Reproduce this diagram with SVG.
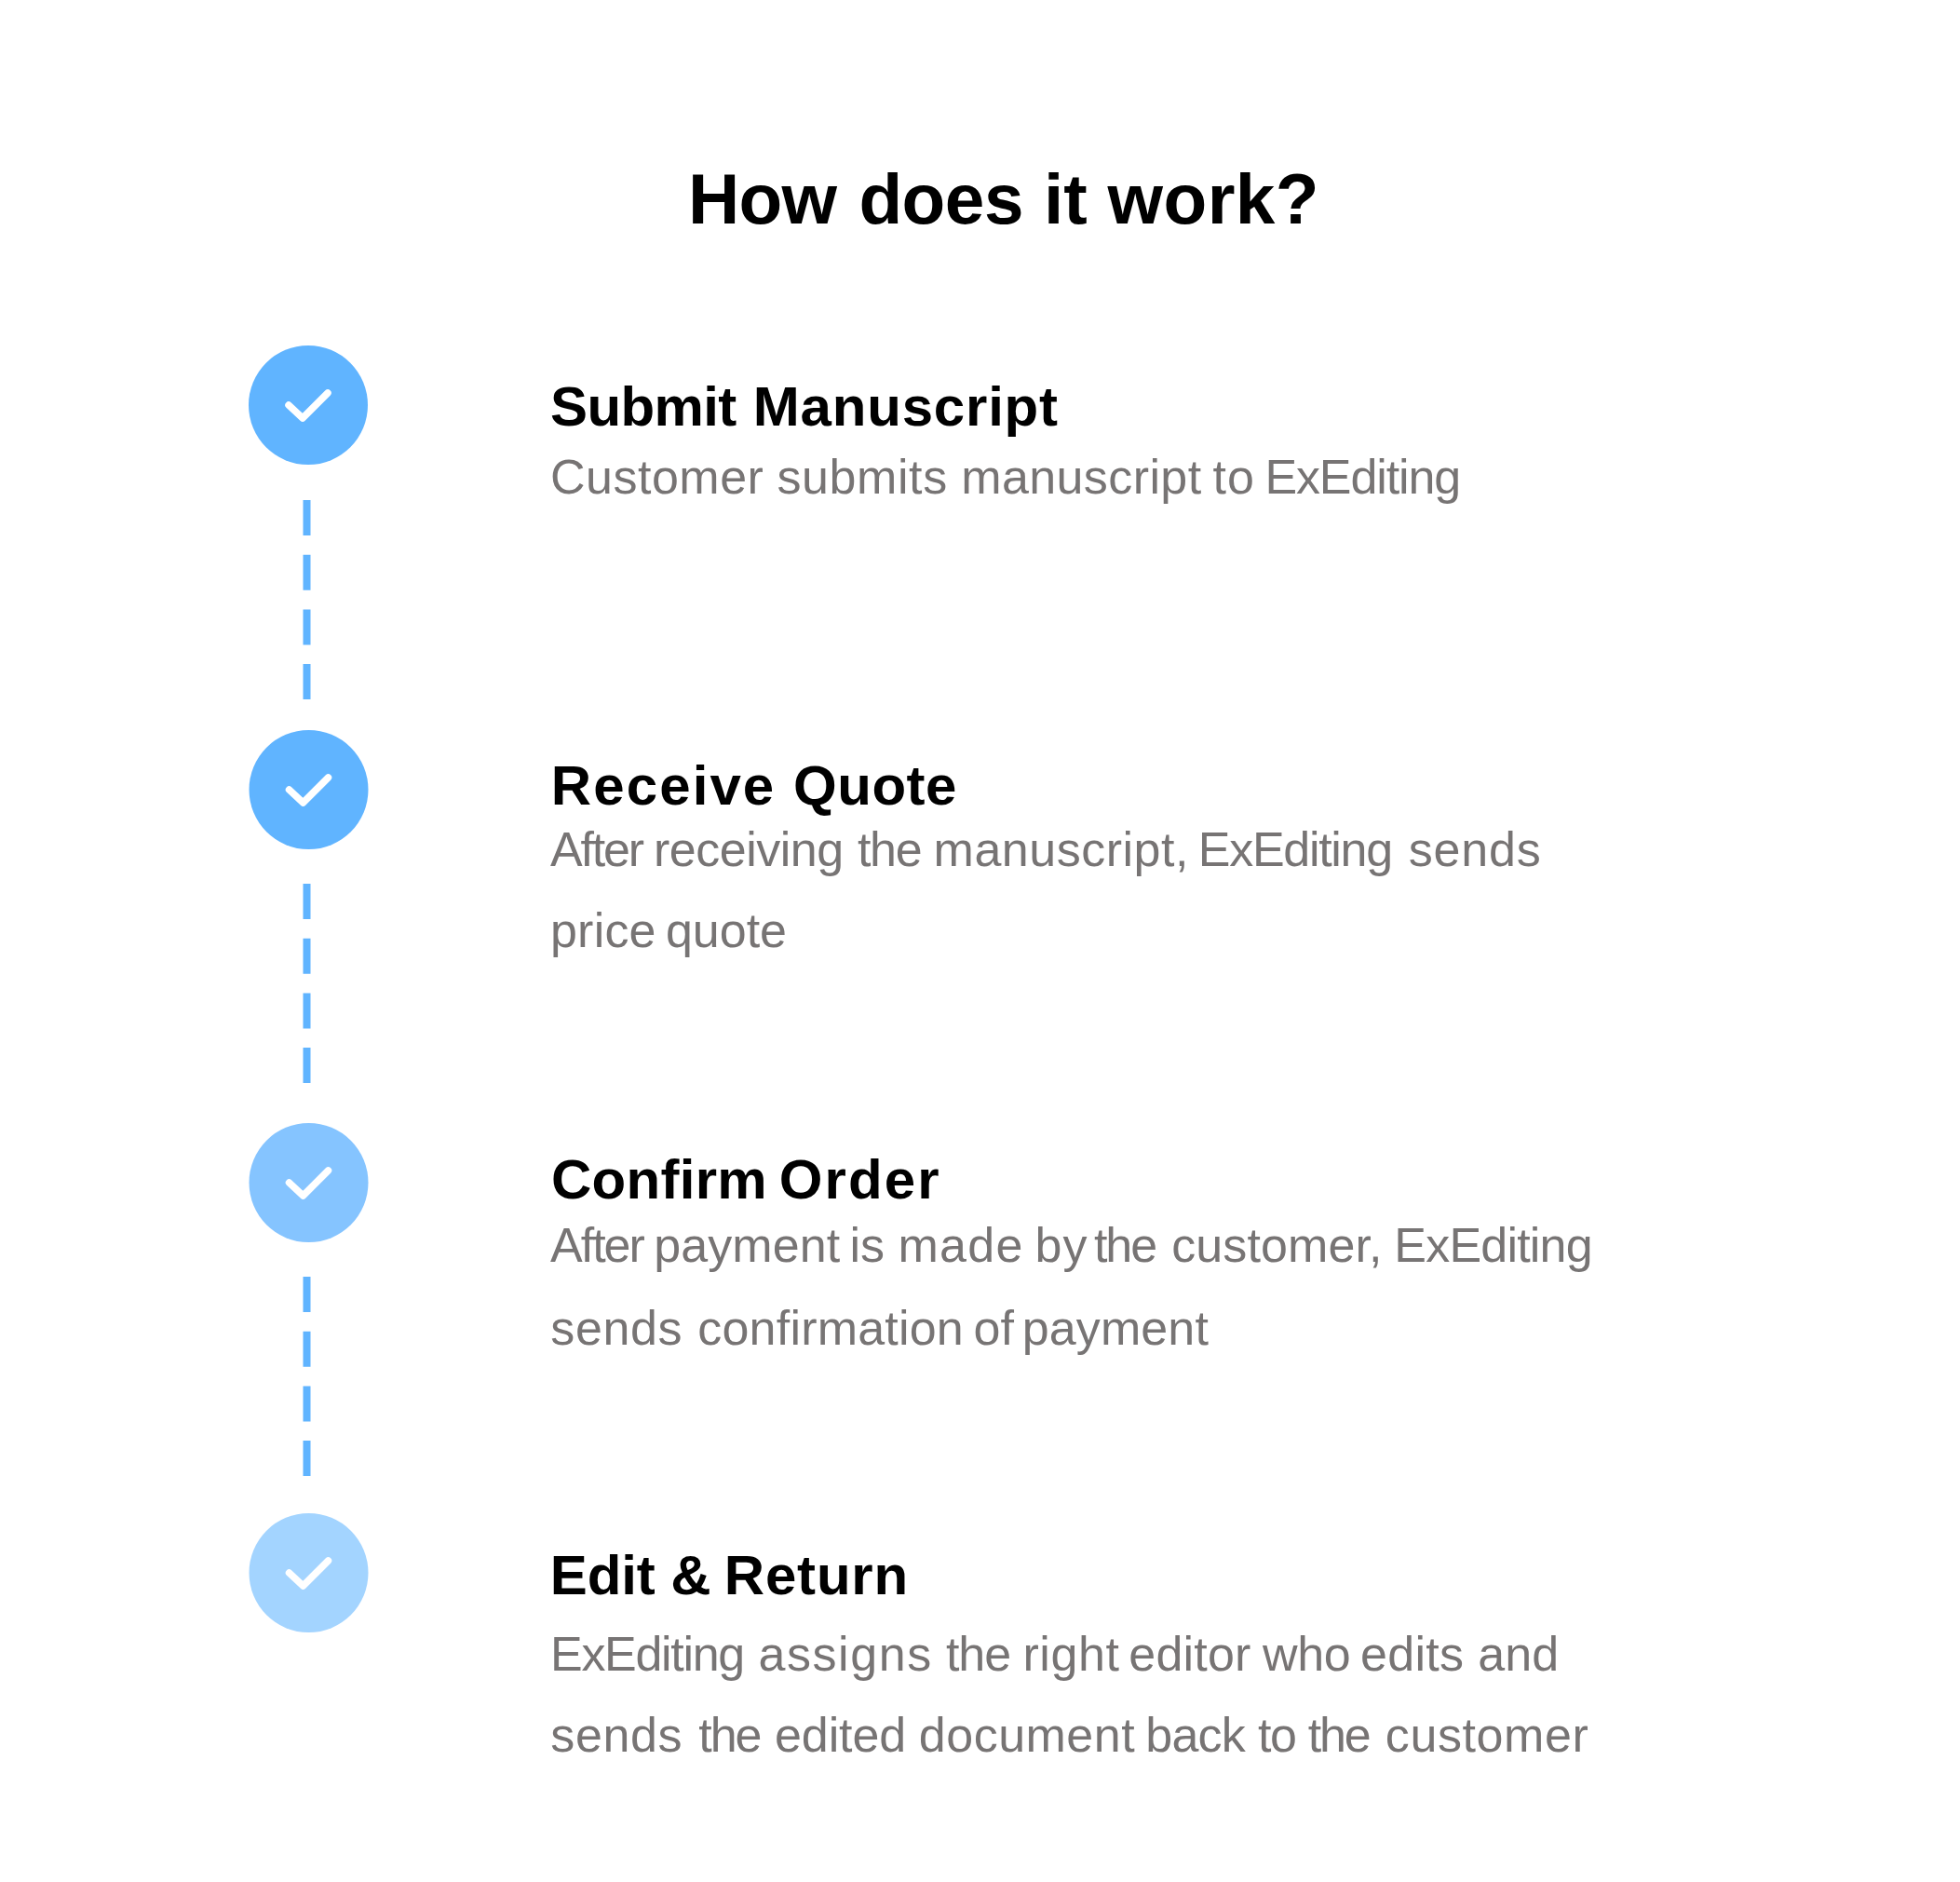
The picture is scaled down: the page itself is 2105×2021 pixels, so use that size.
<svg xmlns="http://www.w3.org/2000/svg" width="2105" height="2021" viewBox="0 0 2105 2021">
<style>
text{font-family:"Liberation Sans",Arial,sans-serif}
.t{font-size:76.5px;font-weight:700;fill:#000}
.h{font-size:60px;font-weight:700;fill:#000}
.b{font-size:52px;fill:#777474}
.k{fill:none;stroke:#fff;stroke-width:7.5;stroke-linecap:round;stroke-linejoin:round}
.d{stroke:#60b4ff;stroke-width:8;stroke-dasharray:38 20.7;fill:none}
</style>
<defs><path id="check" class="k" d="M-21 0L-6 14L21-13"/></defs>
<rect width="2105" height="2021" fill="#fff"/>
<g id="title"><text class="t" y="240"><tspan x="739" letter-spacing="-.7">How</tspan> <tspan x="922.4" letter-spacing="-.5">does</tspan> <tspan x="1121">it</tspan> <tspan x="1189.6" letter-spacing=".4">work?</tspan></text></g>
<g id="connectors">
<path class="d" d="M329.5 537V758"/>
<path class="d" d="M329.5 949V1170"/>
<path class="d" d="M329.5 1371V1592"/>
</g>
<g id="step1">
<circle cx="331" cy="435" r="64" fill="#60b4ff"/>
<use href="#check" x="331" y="435"/>
<text class="h" y="457"><tspan x="591" letter-spacing="-.6">Submit</tspan> <tspan x="808.8" letter-spacing=".8">Manuscript</tspan></text>
<text class="b" y="529.5"><tspan x="591" letter-spacing=".5">Customer</tspan> <tspan x="834.4" letter-spacing=".6">submits</tspan> <tspan x="1032.2" letter-spacing=".4">manuscript</tspan> <tspan x="1302.5" letter-spacing="1">to</tspan> <tspan x="1358.4" letter-spacing="-1.1">ExEditing</tspan></text>
</g>
<g id="step2">
<circle cx="331.5" cy="848" r="64" fill="#60b4ff"/>
<use href="#check" x="331.5" y="848"/>
<text class="h" y="864"><tspan x="591.8" letter-spacing="2.1">Receive</tspan> <tspan x="852.1" letter-spacing=".5">Quote</tspan></text>
<text class="b" y="930"><tspan x="591" letter-spacing="-2.2">After</tspan> <tspan x="702" letter-spacing="-.5">receiving</tspan> <tspan x="921" letter-spacing="-1.35">the</tspan> <tspan x="1002.6" letter-spacing=".5">manuscript,</tspan> <tspan x="1286.8" letter-spacing="-1.3">ExEditing</tspan> <tspan x="1512.7" letter-spacing=".8">sends</tspan></text>
<text class="b" y="1017"><tspan x="591" letter-spacing=".2">price</tspan> <tspan x="714.9">quote</tspan></text>
</g>
<g id="step3">
<circle cx="331.5" cy="1270" r="64" fill="#85c4ff"/>
<use href="#check" x="331.5" y="1270"/>
<text class="h" y="1287"><tspan x="591.9" letter-spacing=".3">Confirm</tspan> <tspan x="836.8" letter-spacing="2.1">Order</tspan></text>
<text class="b" y="1354.5"><tspan x="591" letter-spacing="-2">After</tspan> <tspan x="702.2" letter-spacing=".1">payment</tspan> <tspan x="912.5">is</tspan> <tspan x="964.5" letter-spacing="1.3">made</tspan> <tspan x="1111.6" letter-spacing="1">by</tspan> <tspan x="1175" letter-spacing="-2.1">the</tspan> <tspan x="1258.2" letter-spacing=".1">customer,</tspan> <tspan x="1497.3" letter-spacing="-.8">ExEditing</tspan></text>
<text class="b" y="1443.5"><tspan x="591.3" letter-spacing=".6">sends</tspan> <tspan x="749.3" letter-spacing=".2">confirmation</tspan> <tspan x="1045.5" letter-spacing=".2">of</tspan> <tspan x="1097.8" letter-spacing=".1">payment</tspan></text>
</g>
<g id="step4">
<circle cx="331.5" cy="1689" r="64" fill="#a3d4ff"/>
<use href="#check" x="331.5" y="1689"/>
<text class="h" y="1712"><tspan x="590.8" letter-spacing="-.1">Edit</tspan> <tspan x="720.2">&amp;</tspan> <tspan x="777.8" letter-spacing=".8">Return</tspan></text>
<text class="b" y="1794"><tspan x="591" letter-spacing="-1.3">ExEditing</tspan> <tspan x="814.4" letter-spacing="1.6">assigns</tspan> <tspan x="1015.9" letter-spacing="-1">the</tspan> <tspan x="1098.4" letter-spacing=".6">right</tspan> <tspan x="1212.3" letter-spacing=".2">editor</tspan> <tspan x="1355.9" letter-spacing="-.3">who</tspan> <tspan x="1461" letter-spacing=".3">edits</tspan> <tspan x="1587.3" letter-spacing=".1">and</tspan></text>
<text class="b" y="1881"><tspan x="591.3" letter-spacing=".6">sends</tspan> <tspan x="750.3" letter-spacing="-2.1">the</tspan> <tspan x="832" letter-spacing="-.1">edited</tspan> <tspan x="986.8" letter-spacing=".5">document</tspan> <tspan x="1230.3" letter-spacing="-.8">back</tspan> <tspan x="1351" letter-spacing="-1.5">to</tspan> <tspan x="1404.7" letter-spacing="-2.1">the</tspan> <tspan x="1487.8" letter-spacing=".6">customer</tspan></text>
</g>
</svg>
